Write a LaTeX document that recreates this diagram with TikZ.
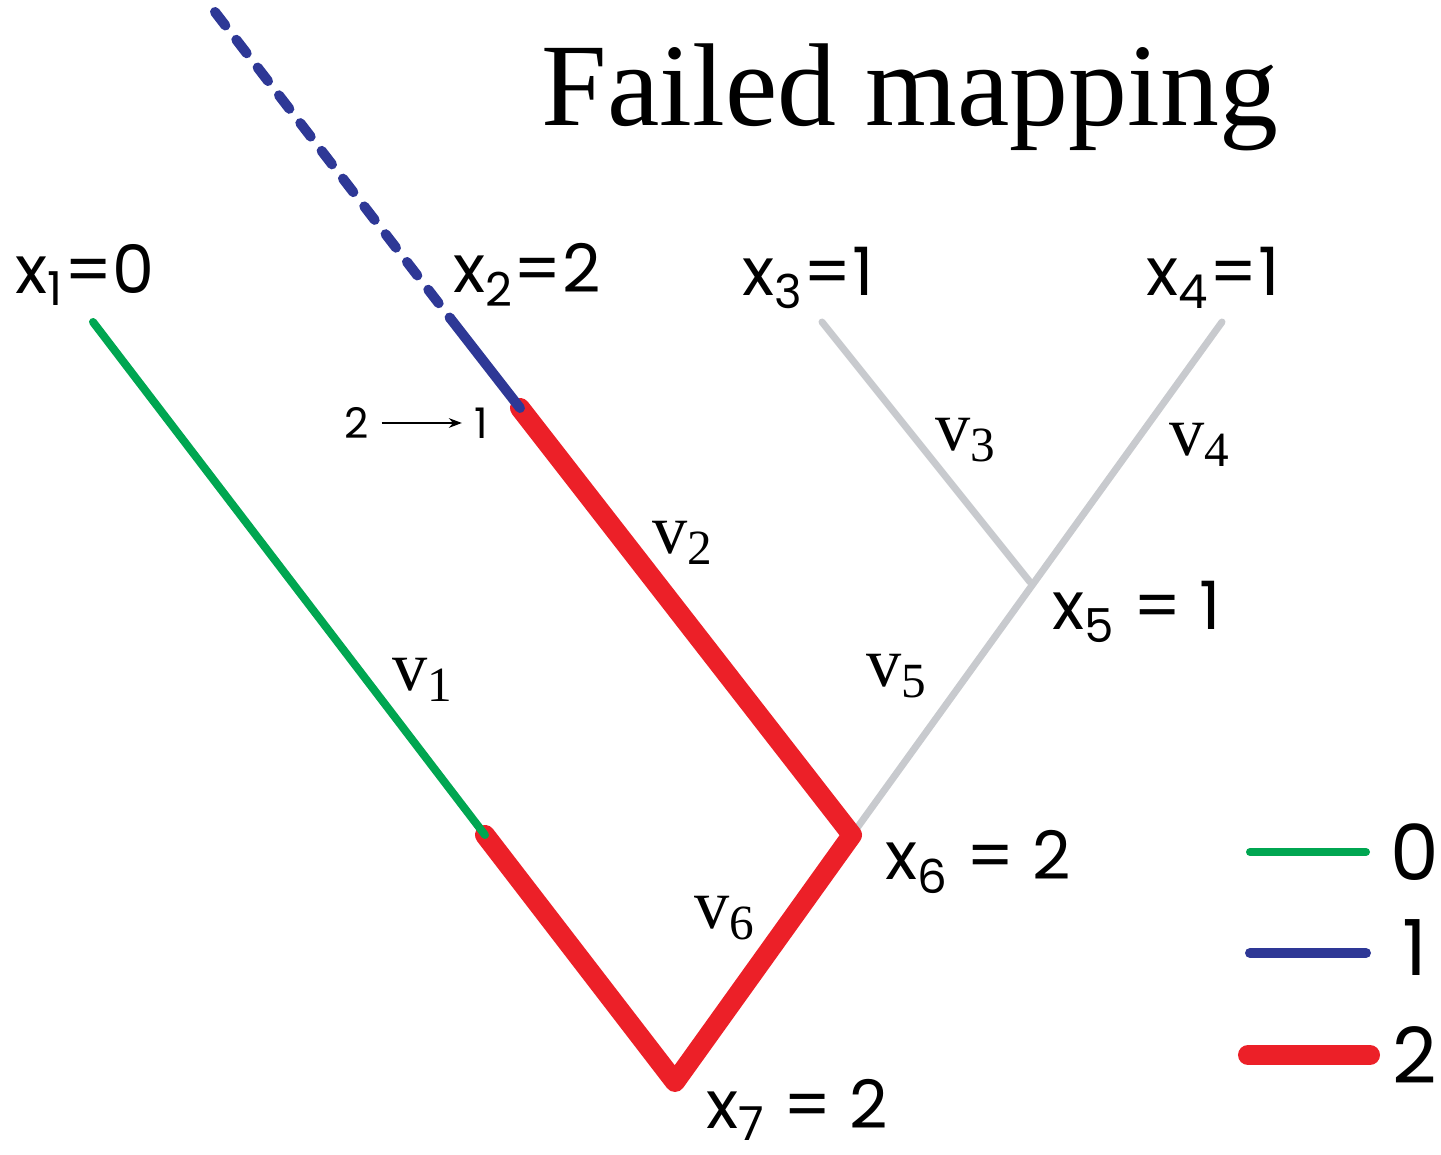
\documentclass[tikz,border=0pt]{standalone}
\usepackage{fontspec}
\setmainfont{Liberation Serif}
\newfontfamily\handfont{Poppins}
\usepackage{tikz}
\usetikzlibrary{arrows.meta,positioning}
\definecolor{mapgreen}{RGB}{0,166,81}
\definecolor{mapblue}{RGB}{46,56,150}
\definecolor{mapred}{RGB}{236,32,40}
\definecolor{mapgray}{RGB}{200,202,206}

\begin{document}
\begin{tikzpicture}[x=0.01cm,y=-0.01cm,
    xlab/.style={font=\handfont\fontsize{19}{22}\selectfont},
    vlab/.style={font=\fontsize{20}{24}\selectfont},
    cost/.style={font=\handfont\fontsize{12}{14}\selectfont},
    edgegray/.style={mapgray,line width=0.07cm,line cap=round},
    edgegreen/.style={mapgreen,line width=0.08cm,line cap=round},
    edgered/.style={mapred,line width=0.2cm,line cap=round,line join=round},
    edgeblue/.style={mapblue,line width=0.1cm,line cap=round}]
        \useasboundingbox (0,0) rectangle (1441,1155);
        % tree vertices
        \coordinate (x1) at (93,322);
        \coordinate (x3) at (822,322);
        \coordinate (x4) at (1222,322);
        \coordinate (x5) at (1030,582);
        \coordinate (x6) at (852,835);
        \coordinate (x7) at (675,1082);
        \coordinate (g) at (485,835);
        \coordinate (b) at (520,408);
        \coordinate (btop) at (215,12);
        \coordinate (bmid) at (450,318);
        % edges
        \draw[edgegray] (x6) -- (x4);
        \draw[edgegray] (x5) -- (x3);
        \draw[edgered] (b) -- (x6) -- (x7) -- (g);
        \draw[edgegreen] (x1) -- (g);
        \draw[edgeblue,dash pattern=on 0.17cm off 0.18cm] (btop) -- (bmid);
        \draw[edgeblue] (bmid) -- (b);
        % title
        \node[font=\fontsize{33.5}{40}\selectfont] (title) at (910,97) {Failed mapping};
        % vertex labels
        \node[xlab] (l1) at (85,275) {x\textsubscript{1}=0};
        \node[xlab] (l2) at (527,275) {x\textsubscript{2}=2};
        \node[xlab] (l3) at (808,278) {x\textsubscript{3}=1};
        \node[xlab] (l4) at (1213,278) {x\textsubscript{4}=1};
        \node[xlab] (l5) at (1137,612) {x\textsubscript{5} = 1};
        \node[xlab] (l6) at (978,862) {x\textsubscript{6} = 2};
        \node[xlab] (l7) at (797,1110) {x\textsubscript{7} = 2};
        % edge labels
        \node[vlab] (v1) at (423,680) {v\textsubscript{1}};
        \node[vlab] (v2) at (683,543) {v\textsubscript{2}};
        \node[vlab] (v3) at (966,440) {v\textsubscript{3}};
        \node[vlab] (v4) at (1200,445) {v\textsubscript{4}};
        \node[vlab] (v5) at (897,676) {v\textsubscript{5}};
        \node[vlab] (v6) at (725,918) {v\textsubscript{6}};
        % change of state
        \node[cost] (from) at (357,423) {2};
        \node[cost] (to) at (481,423) {1};
        \draw[-{Stealth[length=0.13cm]},thin] (from) -- (to);
        % legend
        \coordinate (k0a) at (1250,852);
        \coordinate (k0b) at (1366,852);
        \coordinate (k1a) at (1250,953);
        \coordinate (k1b) at (1366,953);
        \coordinate (k2a) at (1248,1055);
        \coordinate (k2b) at (1370,1055);
        \draw[edgegreen] (k0a) -- (k0b);
        \draw[edgeblue] (k1a) -- (k1b);
        \draw[edgered] (k2a) -- (k2b);
        \node[xlab,font=\handfont\fontsize{22}{26}\selectfont] (n0) at (1415,852) {0};
        \node[xlab,font=\handfont\fontsize{22}{26}\selectfont] (n1) at (1415,948) {1};
        \node[xlab,font=\handfont\fontsize{22}{26}\selectfont] (n2) at (1415,1055) {2};
\end{tikzpicture}
\end{document}
